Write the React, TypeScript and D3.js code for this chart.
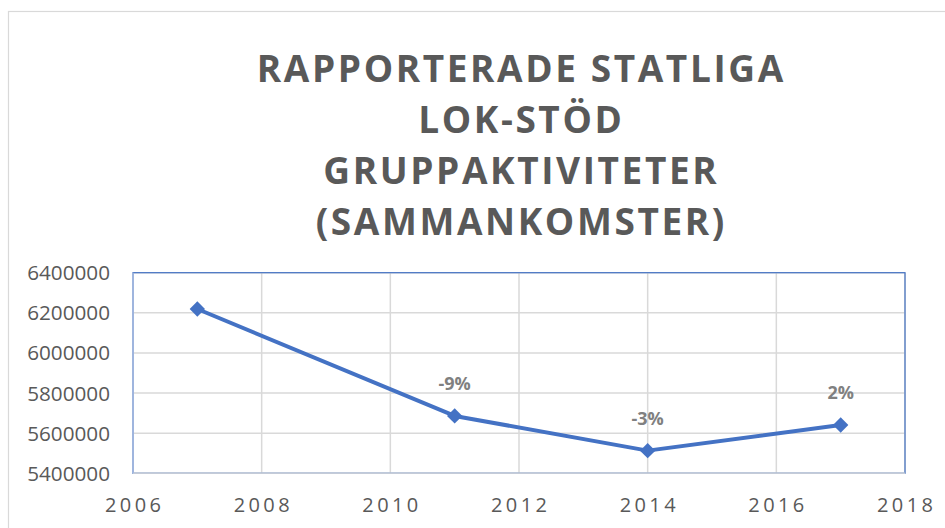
import React from "react";
import * as d3 from "d3";

const years = [2007, 2011, 2014, 2017];
const values = [6219000, 5686000, 5513000, 5641000];
const changeLabels = ["", "-9%", "-3%", "2%"];
const xTicks = [2006, 2008, 2010, 2012, 2014, 2016, 2018];
const yTicks = [5400000, 5600000, 5800000, 6000000, 6200000, 6400000];
const titleLines = ["RAPPORTERADE STATLIGA", "LOK-STÖD", "GRUPPAKTIVITETER", "(SAMMANKOMSTER)"];

const W = 945;
const H = 528;
const plot = { left: 133, right: 905, top: 272.7, bottom: 473.3 };

export default function App() {
  const x = d3.scaleLinear().domain([2006, 2018]).range([plot.left, plot.right]);
  const y = d3.scaleLinear().domain([5400000, 6400000]).range([plot.bottom, plot.top]);
  const line = d3
    .line<number>()
    .x((_, i) => x(years[i]))
    .y((d) => y(d));
  const diamond = d3.symbol().type(d3.symbolDiamond2).size(150)();
  const titleBaselines = [82, 133, 184, 235];
  const xLS = 3.4;

  return (
    <svg
      width={W}
      height={H}
      style={{ position: "fixed", left: 0, top: 0, background: "#fff" }}
      fontFamily="'Open Sans', sans-serif"
    >
      <rect x={0} y={0} width={W} height={H} fill="#fff" />
      <rect x={8.5} y={11.5} width={1000} height={600} fill="#fff" stroke="#d9d9d9" strokeWidth={1.2} />
      {titleLines.map((t, i) => (
        <text
          key={t}
          x={520}
          dx={1.3}
          y={titleBaselines[i]}
          textAnchor="middle"
          fontWeight={700}
          fontSize={37}
          letterSpacing={2.6}
          fill="#595959"
        >
          {t}
        </text>
      ))}
      {yTicks.map((t) => (
        <line key={"gy" + t} x1={plot.left} x2={plot.right} y1={y(t)} y2={y(t)} stroke="#d9d9d9" strokeWidth={1.5} />
      ))}
      {xTicks.map((t) => (
        <line key={"gx" + t} x1={x(t)} x2={x(t)} y1={plot.top} y2={plot.bottom} stroke="#d9d9d9" strokeWidth={1.5} />
      ))}
      <rect
        x={plot.left}
        y={plot.top}
        width={plot.right - plot.left}
        height={plot.bottom - plot.top}
        fill="none"
        stroke="#4472C4"
        strokeWidth={1.2}
      />
      <line x1={plot.left} x2={plot.right} y1={plot.bottom} y2={plot.bottom} stroke="#c4cbd8" strokeWidth={1.5} />
      <line x1={plot.left} x2={plot.left} y1={plot.top} y2={plot.bottom} stroke="#a9bde3" strokeWidth={1.5} />
      {yTicks.map((t) => (
        <text key={"ly" + t} x={110} y={y(t) + 7.5} textAnchor="end" fontSize={20.7} fill="#595959">
          {t}
        </text>
      ))}
      {xTicks.map((t) => (
        <text
          key={"lx" + t}
          x={x(t)}
          dx={xLS / 2}
          y={511.7}
          textAnchor="middle"
          fontSize={20}
          letterSpacing={xLS}
          fill="#595959"
        >
          {t}
        </text>
      ))}
      <path d={line(values) || ""} fill="none" stroke="#4472C4" strokeWidth={4} strokeLinejoin="round" />
      {values.map((v, i) => (
        <path key={"m" + i} d={diamond || ""} transform={`translate(${x(years[i])},${y(v)})`} fill="#4472C4" />
      ))}
      {values.map((v, i) =>
        changeLabels[i] ? (
          <text
            key={"dl" + i}
            x={x(years[i])}
            y={y(v) - 26}
            textAnchor="middle"
            fontWeight={700}
            fontSize={18}
            fill="#808080"
          >
            {changeLabels[i]}
          </text>
        ) : null
      )}
    </svg>
  );
}
